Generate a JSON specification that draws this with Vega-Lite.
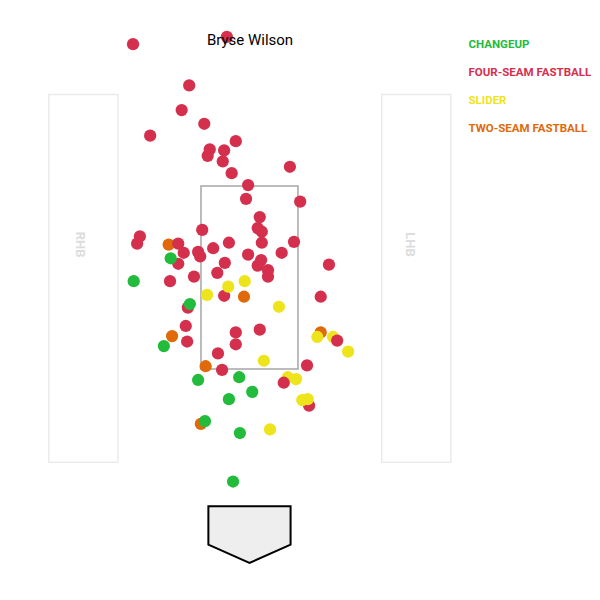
{
  "$schema": "https://vega.github.io/schema/vega-lite/v6.json",
  "description": "Pitch locations, Bryse Wilson",
  "width": 600,
  "height": 600,
  "autosize": {"type": "none"},
  "padding": 0,
  "background": "white",
  "config": {
    "view": {"stroke": null},
    "font": "Roboto"
  },
  "title": {
    "text": "Bryse Wilson",
    "font": "Roboto",
    "fontSize": 15,
    "fontWeight": "normal",
    "color": "#000000",
    "anchor": "middle",
    "dx": -50,
    "offset": -48
  },
  "encoding": {
    "x": {
      "field": "x",
      "type": "quantitative",
      "scale": {"domain": [-3.642, 5.117], "nice": false, "zero": false},
      "axis": null
    },
    "y": {
      "field": "y",
      "type": "quantitative",
      "scale": {"domain": [-1.025, 5.533], "nice": false, "zero": false},
      "axis": null
    }
  },
  "layer": [
    {
      "data": {"values": [
        {"x": -2.93, "x2": -1.92, "y": 0.48, "y2": 4.5, "side": "RHB"},
        {"x": 1.93, "x2": 2.94, "y": 0.48, "y2": 4.5, "side": "LHB"}
      ]},
      "mark": {"type": "rect", "fill": "white", "stroke": "#ebebeb", "strokeWidth": 1.5},
      "encoding": {
        "x2": {"field": "x2"},
        "y2": {"field": "y2"}
      }
    },
    {
      "data": {"values": [
        {"x": -2.47, "y": 2.86, "side": "RHB"},
        {"x": 2.34, "y": 2.86, "side": "LHB"}
      ]},
      "mark": {"type": "text", "angle": 90, "font": "Roboto", "fontSize": 13, "fontWeight": "bold", "color": "#dddddd", "align": "center", "baseline": "middle"},
      "encoding": {
        "text": {"field": "side"}
      }
    },
    {
      "data": {"values": [
        {"x": -0.708, "x2": 0.708, "y": 1.5, "y2": 3.5}
      ]},
      "mark": {"type": "rect", "fill": "transparent", "stroke": "#a6a6a6", "strokeWidth": 1.5},
      "encoding": {
        "x2": {"field": "x2"},
        "y2": {"field": "y2"}
      }
    },
    {
      "data": {"values": [
        {"x": -0.6, "y": 0, "y2": -0.42},
        {"x": 0, "y": 0, "y2": -0.62},
        {"x": 0.6, "y": 0, "y2": -0.42}
      ]},
      "mark": {"type": "area", "fill": "#eeeeee", "stroke": "#000000", "strokeWidth": 2, "strokeJoin": "miter"},
      "encoding": {
        "y2": {"field": "y2"}
      }
    },
    {
      "data": {"values": [
        {"x": -1.18, "y": 2.86, "pitch": "Two-Seam Fastball"},
        {"x": -0.71, "y": 0.90, "pitch": "Two-Seam Fastball"},
        {"x": 1.04, "y": 1.90, "pitch": "Two-Seam Fastball"},
        {"x": -1.70, "y": 5.05, "pitch": "Four-Seam Fastball"},
        {"x": -0.33, "y": 5.13, "pitch": "Four-Seam Fastball"},
        {"x": -0.88, "y": 4.60, "pitch": "Four-Seam Fastball"},
        {"x": -0.99, "y": 4.33, "pitch": "Four-Seam Fastball"},
        {"x": -0.66, "y": 4.18, "pitch": "Four-Seam Fastball"},
        {"x": -1.45, "y": 4.05, "pitch": "Four-Seam Fastball"},
        {"x": -0.20, "y": 3.99, "pitch": "Four-Seam Fastball"},
        {"x": -0.58, "y": 3.90, "pitch": "Four-Seam Fastball"},
        {"x": -0.61, "y": 3.83, "pitch": "Four-Seam Fastball"},
        {"x": -0.37, "y": 3.89, "pitch": "Four-Seam Fastball"},
        {"x": -0.39, "y": 3.77, "pitch": "Four-Seam Fastball"},
        {"x": -0.26, "y": 3.64, "pitch": "Four-Seam Fastball"},
        {"x": 0.59, "y": 3.71, "pitch": "Four-Seam Fastball"},
        {"x": -0.02, "y": 3.51, "pitch": "Four-Seam Fastball"},
        {"x": -0.05, "y": 3.36, "pitch": "Four-Seam Fastball"},
        {"x": 0.74, "y": 3.33, "pitch": "Four-Seam Fastball"},
        {"x": 0.15, "y": 3.16, "pitch": "Four-Seam Fastball"},
        {"x": 0.12, "y": 3.04, "pitch": "Four-Seam Fastball"},
        {"x": 0.18, "y": 3.00, "pitch": "Four-Seam Fastball"},
        {"x": 0.18, "y": 2.88, "pitch": "Four-Seam Fastball"},
        {"x": 0.65, "y": 2.89, "pitch": "Four-Seam Fastball"},
        {"x": -0.69, "y": 3.02, "pitch": "Four-Seam Fastball"},
        {"x": -1.60, "y": 2.95, "pitch": "Four-Seam Fastball"},
        {"x": -1.64, "y": 2.87, "pitch": "Four-Seam Fastball"},
        {"x": -1.04, "y": 2.87, "pitch": "Four-Seam Fastball"},
        {"x": -0.96, "y": 2.77, "pitch": "Four-Seam Fastball"},
        {"x": -1.04, "y": 2.65, "pitch": "Four-Seam Fastball"},
        {"x": -0.75, "y": 2.78, "pitch": "Four-Seam Fastball"},
        {"x": -0.72, "y": 2.73, "pitch": "Four-Seam Fastball"},
        {"x": -0.53, "y": 2.82, "pitch": "Four-Seam Fastball"},
        {"x": -0.30, "y": 2.88, "pitch": "Four-Seam Fastball"},
        {"x": -0.02, "y": 2.75, "pitch": "Four-Seam Fastball"},
        {"x": 0.47, "y": 2.77, "pitch": "Four-Seam Fastball"},
        {"x": 0.17, "y": 2.69, "pitch": "Four-Seam Fastball"},
        {"x": 0.12, "y": 2.63, "pitch": "Four-Seam Fastball"},
        {"x": 0.27, "y": 2.58, "pitch": "Four-Seam Fastball"},
        {"x": 0.27, "y": 2.51, "pitch": "Four-Seam Fastball"},
        {"x": -0.36, "y": 2.66, "pitch": "Four-Seam Fastball"},
        {"x": -0.47, "y": 2.55, "pitch": "Four-Seam Fastball"},
        {"x": 1.16, "y": 2.64, "pitch": "Four-Seam Fastball"},
        {"x": -1.16, "y": 2.46, "pitch": "Four-Seam Fastball"},
        {"x": -0.81, "y": 2.51, "pitch": "Four-Seam Fastball"},
        {"x": -0.37, "y": 2.30, "pitch": "Four-Seam Fastball"},
        {"x": 1.04, "y": 2.29, "pitch": "Four-Seam Fastball"},
        {"x": -0.90, "y": 2.17, "pitch": "Four-Seam Fastball"},
        {"x": -0.93, "y": 1.97, "pitch": "Four-Seam Fastball"},
        {"x": -0.91, "y": 1.80, "pitch": "Four-Seam Fastball"},
        {"x": -0.20, "y": 1.90, "pitch": "Four-Seam Fastball"},
        {"x": -0.20, "y": 1.77, "pitch": "Four-Seam Fastball"},
        {"x": 0.15, "y": 1.93, "pitch": "Four-Seam Fastball"},
        {"x": -0.46, "y": 1.67, "pitch": "Four-Seam Fastball"},
        {"x": -0.40, "y": 1.49, "pitch": "Four-Seam Fastball"},
        {"x": 0.84, "y": 1.54, "pitch": "Four-Seam Fastball"},
        {"x": 0.87, "y": 1.10, "pitch": "Four-Seam Fastball"},
        {"x": -1.15, "y": 2.71, "pitch": "Changeup"},
        {"x": -1.69, "y": 2.46, "pitch": "Changeup"},
        {"x": -0.87, "y": 2.21, "pitch": "Changeup"},
        {"x": -1.25, "y": 1.75, "pitch": "Changeup"},
        {"x": -0.75, "y": 1.38, "pitch": "Changeup"},
        {"x": -0.15, "y": 1.41, "pitch": "Changeup"},
        {"x": 0.04, "y": 1.25, "pitch": "Changeup"},
        {"x": -0.30, "y": 1.17, "pitch": "Changeup"},
        {"x": -0.65, "y": 0.93, "pitch": "Changeup"},
        {"x": -0.14, "y": 0.80, "pitch": "Changeup"},
        {"x": -0.24, "y": 0.27, "pitch": "Changeup"},
        {"x": -0.07, "y": 2.46, "pitch": "Slider"},
        {"x": -0.31, "y": 2.40, "pitch": "Slider"},
        {"x": -0.62, "y": 2.31, "pitch": "Slider"},
        {"x": 0.43, "y": 2.18, "pitch": "Slider"},
        {"x": 0.21, "y": 1.59, "pitch": "Slider"},
        {"x": 0.99, "y": 1.85, "pitch": "Slider"},
        {"x": 1.22, "y": 1.85, "pitch": "Slider"},
        {"x": 1.44, "y": 1.69, "pitch": "Slider"},
        {"x": 0.56, "y": 1.41, "pitch": "Slider"},
        {"x": 0.68, "y": 1.39, "pitch": "Slider"},
        {"x": 0.77, "y": 1.16, "pitch": "Slider"},
        {"x": 0.85, "y": 1.17, "pitch": "Slider"},
        {"x": 0.30, "y": 0.84, "pitch": "Slider"},
        {"x": -0.08, "y": 2.29, "pitch": "Two-Seam Fastball"},
        {"x": -1.13, "y": 1.86, "pitch": "Two-Seam Fastball"},
        {"x": -0.64, "y": 1.53, "pitch": "Two-Seam Fastball"},
        {"x": 1.28, "y": 1.81, "pitch": "Four-Seam Fastball"},
        {"x": 0.50, "y": 1.35, "pitch": "Four-Seam Fastball"}
      ]},
      "mark": {"type": "circle", "size": 150, "opacity": 1},
      "encoding": {
        "color": {
          "field": "pitch",
          "type": "nominal",
          "scale": {
            "domain": ["Changeup", "Four-Seam Fastball", "Slider", "Two-Seam Fastball"],
            "range": ["#22bb3c", "#d4304e", "#eee41b", "#e0690a"]
          },
          "legend": {
            "orient": "none",
            "legendX": 457,
            "legendY": 39,
            "title": null,
            "symbolSize": 0,
            "symbolOpacity": 0,
            "symbolStrokeWidth": 0,
            "labelOffset": 0,
            "labelFont": "'Liberation Sans Narrow', Roboto",
            "labelFontSize": 11.5,
            "labelFontWeight": "bold",
            "rowPadding": 15,
            "labelExpr": "upper(datum.label)",
            "encode": {
              "labels": {"update": {"fill": {"scale": "color", "field": "value"}}}
            }
          }
        }
      }
    }
  ]
}
